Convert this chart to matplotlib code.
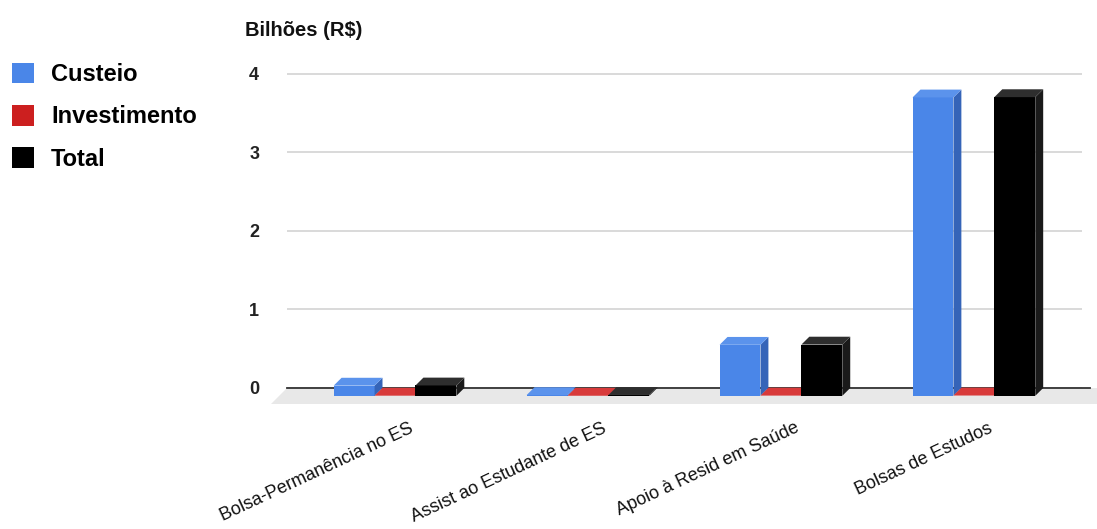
import matplotlib
matplotlib.use('Agg')
import matplotlib.pyplot as plt
import matplotlib.patches as mpatches
from matplotlib.transforms import ScaledTranslation

plt.rcParams['font.family'] = ['Liberation Sans', 'DejaVu Sans']

# data (billions of R$)
categories  = ['Bolsa-Permanência no ES', 'Assist ao Estudante de ES',
               'Apoio à Resid em Saúde', 'Bolsas de Estudos']
series      = ['Custeio', 'Investimento', 'Total']
custeio     = [0.13, 0.01, 0.65, 3.80]
investimento = [0.002, 0.001, 0.003, 0.004]
total       = [0.132, 0.011, 0.653, 3.804]
y_ticks     = [0, 1, 2, 3, 4]

front_colors = ['#4a86e8', '#cc1f1f', '#000000']
top_colors   = ['#5b93ec', '#d83a3a', '#2e2e2e']
side_colors  = ['#3564b8', '#9e1414', '#1a1a1a']

fig = plt.figure(figsize=(10.97, 5.29), dpi=100)
ax = fig.add_axes([0.2616, 0.225, 0.7247, 0.665])
ax.set_xlim(-0.56, 3.56)
ax.set_ylim(-0.28, 4.2)

# depth of the fake 3d effect, in data units (~8 px each way)
dx, dy = 0.041, 0.10
w = 0.212

ax.yaxis.grid(True, color='#d3d3d3', lw=1.2, zorder=0)
ax.set_axisbelow(True)

# floor under the baseline
floor = mpatches.Polygon([(-0.56, 0), (3.64, 0), (3.64, -2*dy), (-0.56 - 2*dx, -2*dy)],
                         closed=True, facecolor='#e8e8e8', edgecolor='none',
                         zorder=1, clip_on=False)
ax.add_patch(floor)
ax.plot([-0.56, 3.6], [0, 0], color='#333333', lw=1.3, zorder=2, clip_on=False)

values = [custeio, investimento, total]
x = range(len(categories))
for i in range(len(categories)):
    for j, vals in enumerate(values):
        xpos = i + (j - 1) * w
        bars = ax.bar(xpos, vals[i], width=w, bottom=-dy, color=front_colors[j],
                      zorder=3 + i * 3 + j, linewidth=0)
        r = bars[0]
        l, b = r.get_x(), r.get_y()
        rw, h = r.get_width(), r.get_height()
        top = mpatches.Polygon([(l, b + h), (l + rw, b + h), (l + rw + dx, b + h + dy), (l + dx, b + h + dy)],
                               closed=True, facecolor=top_colors[j], edgecolor='none',
                               zorder=3 + i * 3 + j)
        side = mpatches.Polygon([(l + rw, b), (l + rw + dx, b + dy), (l + rw + dx, b + h + dy), (l + rw, b + h)],
                                closed=True, facecolor=side_colors[j], edgecolor='none',
                                zorder=3 + i * 3 + j)
        ax.add_patch(side)
        ax.add_patch(top)

for s in ax.spines.values():
    s.set_visible(False)

ax.set_yticks(y_ticks)
ax.set_yticklabels([str(t) for t in y_ticks], fontsize=13, fontweight='bold', color='#222222')
ax.tick_params(axis='y', length=0, pad=20)

ax.set_xticks(list(x))
ax.set_xticklabels(categories, rotation=25, ha='right', va='top', rotation_mode='anchor',
                   fontsize=13, color='#111111')
ax.tick_params(axis='x', length=0, pad=7)
for lbl in ax.get_xticklabels():
    lbl.set_transform(lbl.get_transform() + ScaledTranslation(0.14, 0, fig.dpi_scale_trans))

fig.text(245 / 1097, 1 - 30 / 529, 'Bilhões (R$)', fontsize=14.5, fontweight='bold',
         color='#111111', ha='left', va='center')

handles = [mpatches.Patch(facecolor=c, edgecolor='none', label=s)
           for c, s in zip(front_colors, series)]
fig.legend(handles=handles, loc='upper left', bbox_to_anchor=(12 / 1097, 1 - 63 / 529),
           frameon=False, prop={'weight': 'bold', 'size': 17},
           handlelength=0.95, handleheight=0.95, handletextpad=0.7,
           labelspacing=0.8, borderpad=0, borderaxespad=0)

fig.savefig('out.png', dpi=100)
